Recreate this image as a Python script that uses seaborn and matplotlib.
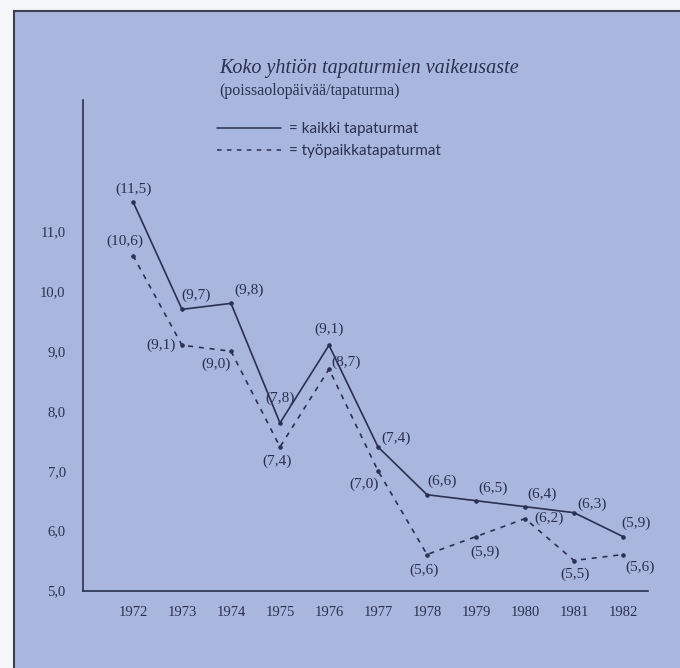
import matplotlib
matplotlib.use('Agg')
import matplotlib.pyplot as plt
import seaborn as sns
import pandas as pd
from matplotlib.patches import Rectangle
from matplotlib.lines import Line2D

# data
years = [1972, 1973, 1974, 1975, 1976, 1977, 1978, 1979, 1980, 1981, 1982]
kaikki = [11.5, 9.7, 9.8, 7.8, 9.1, 7.4, 6.6, 6.5, 6.4, 6.3, 5.9]
tyopaikka = [10.6, 9.1, 9.0, 7.4, 8.7, 7.0, 5.6, 5.9, 6.2, 5.5, 5.6]
series_names = ['kaikki tapaturmat', 'työpaikkatapaturmat']
y_ticks = [5.0, 6.0, 7.0, 8.0, 9.0, 10.0, 11.0]
title = 'Koko yhtiön tapaturmien vaikeusaste'
subtitle = '(poissaolopäivää/tapaturma)'

# label offsets in pixels (dx, dy up)
off_kaikki = [(1, 12), (14, 14), (18, 13), (0, 25), (0, 16), (18, 9),
              (15, 13), (17, 12), (17, 12), (18, 8), (13, 13)]
off_tyo = [(-8, 14), (-21, 0), (-15, -13), (-3, -14), (17, 7), (-14, -13),
           (-3, -16), (9, -16), (24, 0), (1, -14), (17, -13)]

ink = '#2b3050'
bg = '#a9b7de'
serif = 'Liberation Serif'

sns.set_style('white')
plt.rcParams['font.family'] = [serif, 'DejaVu Sans']

W, H = 680, 668
fig = plt.figure(figsize=(W / 100, H / 100), dpi=100, facecolor='#f5f6f8')

# blue page with dark border
fig.add_artist(Rectangle((14 / W, -0.1), 1.2, 1.1 - 11 / H, transform=fig.transFigure,
                         facecolor=bg, edgecolor='#3c4050', linewidth=1.5, zorder=-5))

ax = fig.add_axes([83 / W, 1 - 591 / H, (648 - 83) / W, (591 - 100) / H])
ax.set_facecolor('none')
ax.set_zorder(2)

df = pd.DataFrame({
    'vuosi': years + years,
    'arvo': kaikki + tyopaikka,
    'sarja': [series_names[0]] * len(years) + [series_names[1]] * len(years),
})
sns.lineplot(data=df, x='vuosi', y='arvo', style='sarja', ax=ax, color=ink,
             dashes={series_names[0]: '', series_names[1]: (3, 3.5)},
             markers={series_names[0]: 'o', series_names[1]: 'o'},
             markersize=2.5, markeredgecolor=ink, linewidth=1.2, legend=False)

def fmt(v):
    return '({:.1f})'.format(v).replace('.', ',')

for yr, v, (dx, dy) in zip(years, kaikki, off_kaikki):
    ax.annotate(fmt(v), (yr, v), xytext=(dx * 0.72, dy * 0.72), textcoords='offset points',
                ha='center', va='center', fontsize=11, color=ink, family=serif)
for yr, v, (dx, dy) in zip(years, tyopaikka, off_tyo):
    ax.annotate(fmt(v), (yr, v), xytext=(dx * 0.72, dy * 0.72), textcoords='offset points',
                ha='center', va='center', fontsize=11, color=ink, family=serif)

ax.set_xlim(1972 - 50 / 49, 1982 + 25 / 49)
ax.set_ylim(4.99, 5 + (590.4 - 100) / 59.8)
ax.set_xticks(years)
ax.set_xticklabels([str(y) for y in years])
ax.set_yticks(y_ticks)
ax.set_yticklabels(['{:.1f}'.format(t).replace('.', ',') for t in y_ticks])
ax.set_xlabel('')
ax.set_ylabel('')
for s in ['top', 'right']:
    ax.spines[s].set_visible(False)
for s in ['left', 'bottom']:
    ax.spines[s].set_color(ink)
    ax.spines[s].set_linewidth(1.2)
ax.tick_params(axis='both', direction='inout', length=5, width=1, color=ink,
               labelcolor=ink, labelsize=10.5)
ax.tick_params(axis='y', pad=10)
ax.tick_params(axis='x', pad=8)

fig.text(219 / W, 1 - 68 / H, title, ha='left', va='center', fontsize=14.5,
         fontstyle='italic', family=serif, color=ink)
fig.text(219 / W, 1 - 91 / H, subtitle, ha='left', va='center', fontsize=11.5,
         family=serif, color=ink)

handles = [Line2D([], [], color=ink, lw=1.1),
           Line2D([], [], color=ink, lw=1.1, linestyle=(0, (3, 3.5)))]
ax.legend(handles, ['= ' + n for n in series_names], loc='upper left',
          bbox_to_anchor=(217 / W, 1 - 122 / H), bbox_transform=fig.transFigure,
          frameon=False, handlelength=4.2, handletextpad=0.5, labelspacing=0.55,
          borderpad=0, borderaxespad=0, labelcolor=ink,
          prop={'family': ['Lato', 'DejaVu Sans'], 'size': 11})

fig.savefig('out.png', dpi=100, facecolor=fig.get_facecolor())
